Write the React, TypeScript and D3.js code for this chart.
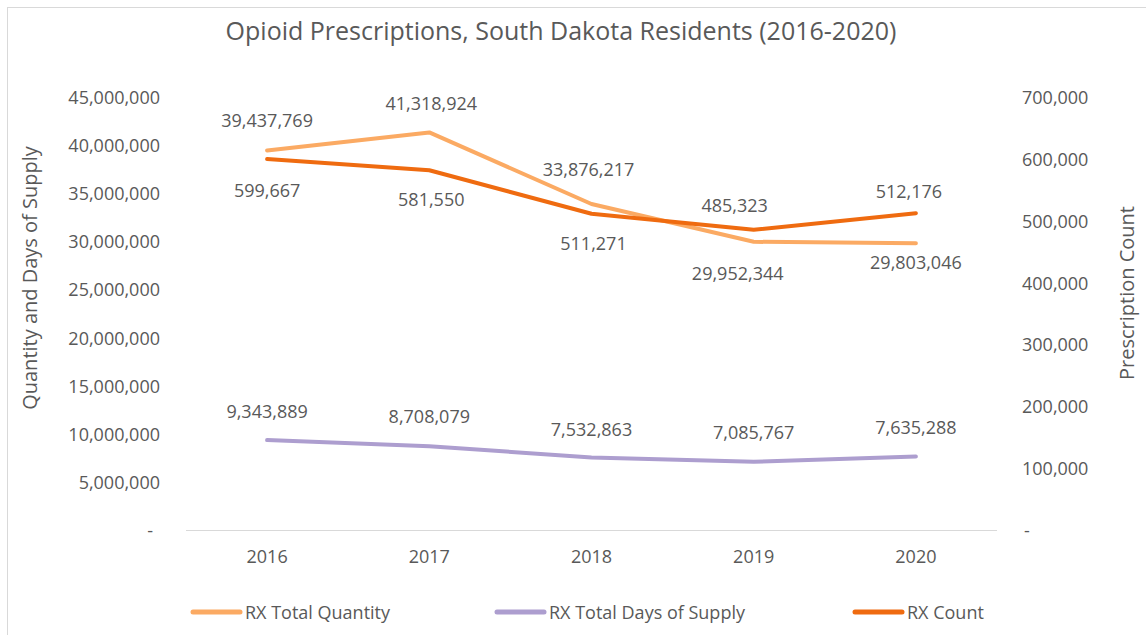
import React from "react";
import * as d3 from "d3";

const years = ["2016", "2017", "2018", "2019", "2020"];
const rxTotalQuantity = [39437769, 41318924, 33876217, 29952344, 29803046];
const rxTotalDaysSupply = [9343889, 8708079, 7532863, 7085767, 7635288];
const rxCount = [599667, 581550, 511271, 485323, 512176];
const leftTicks = [0, 5000000, 10000000, 15000000, 20000000, 25000000, 30000000, 35000000, 40000000, 45000000];
const rightTicks = [0, 100000, 200000, 300000, 400000, 500000, 600000, 700000];
const seriesNames = ["RX Total Quantity", "RX Total Days of Supply", "RX Count"];

// label placement nudges (dx, dy) relative to each point
const quantityLabelOffsets = [[0, -31], [2, -29], [-3, -35], [-16, 31], [0, 19]];
const daysLabelOffsets = [[0, -29], [0, -30], [0, -29], [0, -30], [0, -30]];
const countLabelOffsets = [[0, 31], [2, 29], [2, 29], [-19, -25], [-7, -22]];

const W = 1146;
const H = 635;
const TEXT = "#595959";
const FONT = "'Open Sans', 'DejaVu Sans', sans-serif";
const C_QTY = "#FBAA63";
const C_DAYS = "#AD9ECF";
const C_COUNT = "#EF6B10";

export default function App() {
  const x = d3.scaleBand<string>().domain(years).range([186, 997]);
  const cx = (d: string) => (x(d) as number) + x.bandwidth() / 2;
  const yL = d3.scaleLinear().domain([0, 45000000]).range([530, 97]);
  const yR = d3.scaleLinear().domain([0, 700000]).range([530, 97]);
  const fmt = d3.format(",");

  const lineL = d3
    .line<number>()
    .x((_, i) => cx(years[i]))
    .y((v) => yL(v));
  const lineR = d3
    .line<number>()
    .x((_, i) => cx(years[i]))
    .y((v) => yR(v));

  const series = [
    { name: seriesNames[0], values: rxTotalQuantity, color: C_QTY, y: yL, gen: lineL, offs: quantityLabelOffsets },
    { name: seriesNames[1], values: rxTotalDaysSupply, color: C_DAYS, y: yL, gen: lineL, offs: daysLabelOffsets },
    { name: seriesNames[2], values: rxCount, color: C_COUNT, y: yR, gen: lineR, offs: countLabelOffsets },
  ];

  const legendX = [193, 497, 855];

  return (
    <svg
      width={W}
      height={H}
      style={{ position: "absolute", left: 0, top: 0, background: "#fff" }}
      fontFamily={FONT}
    >
      <rect x={0} y={0} width={W} height={H} fill="#fff" />
      <rect x={7.5} y={7.5} width={W + 20} height={H + 20} fill="none" stroke="#D9D9D9" strokeWidth={1} />

      <text x={561} y={30} textAnchor="middle" dominantBaseline="central" fontSize={25} fill={TEXT}>
        Opioid Prescriptions, South Dakota Residents (2016-2020)
      </text>

      {/* left axis */}
      {leftTicks.map((t) => (
        <text
          key={"l" + t}
          x={t === 0 ? 153 : 160}
          y={yL(t)}
          textAnchor="end"
          dominantBaseline="central"
          fontSize={18}
          fill={TEXT}
        >
          {t === 0 ? "-" : fmt(t)}
        </text>
      ))}
      {/* right axis */}
      {rightTicks.map((t) => (
        <text
          key={"r" + t}
          x={t === 0 ? 1024 : 1022}
          y={yR(t)}
          textAnchor="start"
          dominantBaseline="central"
          fontSize={18}
          fill={TEXT}
        >
          {t === 0 ? "-" : fmt(t)}
        </text>
      ))}

      <text
        transform={`translate(29,278) rotate(-90)`}
        textAnchor="middle"
        dominantBaseline="central"
        fontSize={20}
        fill={TEXT}
      >
        Quantity and Days of Supply
      </text>
      <text
        transform={`translate(1126,293) rotate(-90)`}
        textAnchor="middle"
        dominantBaseline="central"
        fontSize={20}
        fill={TEXT}
      >
        Prescription Count
      </text>

      {/* x axis */}
      <line x1={186} x2={997} y1={530.5} y2={530.5} stroke="#D9D9D9" strokeWidth={1} />
      {years.map((yr) => (
        <text key={yr} x={cx(yr)} y={556} textAnchor="middle" dominantBaseline="central" fontSize={18} fill={TEXT}>
          {yr}
        </text>
      ))}

      {/* lines */}
      {series.map((s) => (
        <path
          key={s.name}
          d={s.gen(s.values) as string}
          fill="none"
          stroke={s.color}
          strokeWidth={4}
          strokeLinecap="round"
          strokeLinejoin="round"
        />
      ))}

      {/* data labels */}
      {series.map((s) =>
        s.values.map((v, i) => (
          <text
            key={s.name + i}
            x={cx(years[i]) + s.offs[i][0]}
            y={s.y(v) + s.offs[i][1]}
            textAnchor="middle"
            dominantBaseline="central"
            fontSize={18}
            fill={TEXT}
          >
            {fmt(v)}
          </text>
        ))
      )}

      {/* legend */}
      {series.map((s, i) => (
        <g key={"lg" + s.name}>
          <line
            x1={legendX[i]}
            x2={legendX[i] + 47}
            y1={612}
            y2={612}
            stroke={s.color}
            strokeWidth={5}
            strokeLinecap="round"
          />
          <text x={legendX[i] + 52} y={612} dominantBaseline="central" fontSize={18} fill={TEXT}>
            {s.name}
          </text>
        </g>
      ))}
    </svg>
  );
}
